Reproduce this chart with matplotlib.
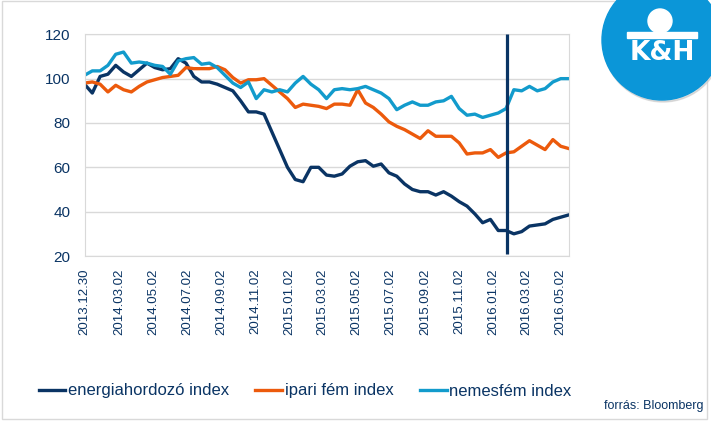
import numpy as np
import pandas as pd
import matplotlib
matplotlib.use("Agg")
import matplotlib.pyplot as plt
from matplotlib.patches import Circle, Rectangle

plt.rcParams['font.family'] = ['Liberation Sans', 'DejaVu Sans']

# two-week sampling of the three series
dates = pd.date_range('2013-12-30', periods=63, freq='14D')

energia = [97.5, 93.5, 101, 102, 106, 103, 101, 104, 107, 105, 104, 104.5, 109, 107, 101, 98.5,
           98.5, 97.5, 96, 94.5, 90, 85, 85, 84, 76, 68, 60, 54.5, 53.5, 60, 60,
           56.5, 56, 57, 60.5, 62.5, 63, 60.5, 61.5, 57.5, 56, 52.5, 50, 49, 49, 47.5,
           49, 47, 44.5, 42.5, 39, 35, 36.5, 31.5, 31.5, 30, 31, 33.5, 34, 34.5, 36.5, 37.5, 38.5]

ipari = [98, 98.5, 97.5, 94, 97, 95, 94, 96.5, 98.5, 99.5, 100.5, 101, 101.5, 105, 104.5, 104.5,
         104.5, 105.5, 104, 100.5, 98, 99.5, 99.5, 100, 97, 94, 91, 87, 88.5, 88, 87.5,
         86.5, 88.5, 88.5, 88, 95, 89, 87, 84, 80.5, 78.5, 77, 75, 73, 76.5, 74,
         74, 74, 71, 66, 66.5, 66.5, 68, 64.5, 66.5, 67, 69.5, 72, 70, 68, 72.5, 69.5, 68.5]

nemesfem = [101.5, 103.5, 103.5, 106, 111, 112, 107, 107.5, 107, 106, 105.5, 102, 108, 109, 109.5, 106.5,
            107, 105, 101.5, 98, 96, 98.5, 91, 95, 94, 95, 94, 98, 101, 97.5, 95,
            91, 95, 95.5, 95, 95.5, 96.5, 95, 93.5, 91, 86, 88, 89.5, 88, 88, 89.5,
            90, 92, 86.5, 83.5, 84, 82.5, 83.5, 84.5, 86.5, 95, 94.5, 96.5, 94.5, 95.5, 98.5, 100, 100]

labels = ['energiahordozó index', 'ipari fém index', 'nemesfém index']
colors = ['#0a3464', '#ec5a0c', '#129bcc']

tick_dates = pd.to_datetime(['2013-12-30', '2014-03-02', '2014-05-02', '2014-07-02', '2014-09-02',
                             '2014-11-02', '2015-01-02', '2015-03-02', '2015-05-02', '2015-07-02',
                             '2015-09-02', '2015-11-02', '2016-01-02', '2016-03-02', '2016-05-02'])
marker_date = pd.Timestamp('2016-01-27')

W, H = 711, 422
fig = plt.figure(figsize=(W / 100, H / 100), dpi=100)
ax = fig.add_axes([84.5 / W, (H - 256) / H, (568.5 - 84.5) / W, (256 - 34.3) / H])

for vals, lab, col in zip([energia, ipari, nemesfem], labels, colors):
    ax.plot(dates, vals, color=col, linewidth=2.4, label=lab)

ax.vlines(marker_date, 21, 120, color='#0a3464', linewidth=2.3, zorder=5)

ax.set_ylim(20, 120)
ax.set_yticks(range(20, 121, 20))
ax.set_xlim(dates[0], dates[-1])
ax.set_xticks(tick_dates)
ax.set_xticklabels([d.strftime('%Y.%m.%d') for d in tick_dates], rotation=90)
ax.tick_params(axis='both', length=0, colors='#0a3464')
ax.tick_params(axis='x', pad=9, labelsize=9.5)
ax.tick_params(axis='y', pad=10, labelsize=11)
ax.grid(axis='y', color='#d9d9d9', linewidth=1)
ax.set_axisbelow(True)
for s in ax.spines.values():
    s.set_color('#d9d9d9')

fig.legend(loc='center', bbox_to_anchor=(305 / W, 1 - 391 / H), ncol=3, frameon=False,
           fontsize=12, handlelength=1.6, handletextpad=0.15, columnspacing=1.6,
           labelcolor='#0a3464')
fig.text(703 / W, 1 - 406 / H, 'forrás: Bloomberg', ha='right', va='center',
         fontsize=9, color='#0a3464')

# outer frame and logo, drawn in pixel coordinates
deco = fig.add_axes([0, 0, 1, 1], zorder=10)
deco.set_xlim(0, W)
deco.set_ylim(H, 0)
deco.axis('off')
deco.add_patch(Rectangle((2, 1), 705, 418, fill=False, edgecolor='#d9d9d9', linewidth=1))
deco.add_patch(Circle((663, 42), 60, color='#c8c8c8', alpha=0.6))
deco.add_patch(Circle((662, 40), 60, color='#0b96d8'))
deco.add_patch(Circle((660, 21), 12, color='white'))
deco.add_patch(Rectangle((627, 32), 70, 6, color='white'))
deco.text(662, 53, 'K&H', color='white', fontsize=19, fontweight='bold',
          ha='center', va='center', family='DejaVu Sans')

fig.savefig('out.png', dpi=100)
